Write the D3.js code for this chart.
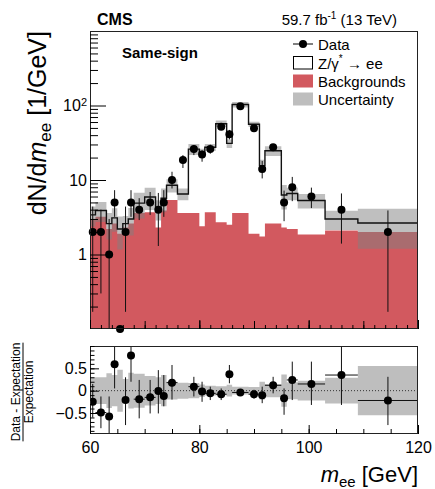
<!DOCTYPE html>
<html><head><meta charset="utf-8">
<script src="https://cdn.jsdelivr.net/npm/d3@7"></script>
<style>
body{margin:0;background:#fff}
svg{display:block}
text{font-family:"Liberation Sans",Arial,Helvetica,sans-serif;fill:#000}
</style>
</head><body>
<svg id="c" width="435" height="489"></svg>
<script>
// ---------------- data ----------------
const binEdges = [60,61,63,64,65,66,67,68,70,72,73,74,76,78,80,81,83,85,86,89,91,92,95,96,98,103,109,120];
const dataValues = [2,2,1,5,0,2,5,4,5,4,5,10,18.5,26,22,26,52,41,98,49.5,14,27.5,5,8,6,4,2];
const dataErrLow  = [0.17,0.3,0.1,3.2,null,0.17,3.2,2.9,3.4,1.3,3.2,7.7,14.5,21.6,17.6,22.5,47,35,92.5,44.5,10.5,24.5,2.8,5.2,4.2,1.4,0.17];
const dataErrHigh = [4.4,4.0,3.0,7.3,null,4.4,7.3,5.7,6.9,6.7,7.3,12.9,21.6,29.5,25,29.8,57,47,104,54.5,18,30.5,7.2,11,7.9,6.6,3.9];
const backgroundValues = [3.0,3.2,2.2,2.6,1.9,2.3,2.6,3.6,3.7,2.3,3.9,5.4,3.6,3.6,2.4,3.7,2.7,2.5,3.6,1.9,1.75,2.6,2.3,2.2,1.85,2.1,2.0];
const expectedTotal = [3.4,3.9,2.6,3.1,2.2,2.6,3.0,4.9,5.9,4.1,5.7,8.5,6.5,26,23,27.5,57,31,103,56,15.6,24.7,6.3,6.6,5.3,3.0,2.65];
const relUncertainty = [0.3,0.3,0.39,0.35,0.47,0.26,0.4,0.38,0.33,0.3,0.35,0.2,0.18,0.17,0.14,0.11,0.1,0.13,0.085,0.08,0.2,0.15,0.36,0.19,0.22,0.29,0.55];
const ratioValues  = [-0.25,-0.49,-0.58,0.59,null,-0.21,0.79,-0.19,-0.15,-0.01,-0.12,0.18,null,0.09,-0.02,-0.06,-0.08,0.37,-0.04,-0.08,-0.10,0.12,-0.17,0.24,0.15,0.35,-0.22];
const ratioErrLow  = [-0.6,-0.84,-0.97,0.05,null,-0.77,0.2,-0.62,-0.51,-0.51,-0.35,-0.2,null,-0.13,-0.25,-0.21,-0.21,0.165,-0.1,-0.18,-0.28,-0.06,-0.54,-0.21,-0.32,-0.32,-0.77];
const ratioErrHigh = [0.15,-0.13,-0.13,1.0,null,0.3,1.0,0.24,0.24,0.46,0.35,0.575,null,0.31,0.2,0.09,0.05,0.575,0.02,0.02,0.09,0.31,0.05,0.65,0.65,1.0,0.31];
const xTickLabels = [60,80,100,120];
const yMainTickLabels = [1,10,100];
const yRatioTickLabels = [-0.5,0,0.5];
const legendLabels = ["Data","Z/γ","Backgrounds","Uncertainty"];

// ---------------- layout ----------------
const X0=90, X1=418, MT=31, MB=329, RT=346, RB=434;
const RED="#d2595f";
const svg=d3.select("#c");
const x=d3.scaleLinear().domain([60,120]).range([X0,X1]);
const y=d3.scaleLog().domain([0.1,1000]).range([MB,MT]);
const yr=d3.scaleLinear().domain([-0.97,1.0]).range([RB,RT]);

const bins=dataValues.map((d,i)=>({lo:binEdges[i],hi:binEdges[i+1],c:(binEdges[i]+binEdges[i+1])/2,
  data:d,el:dataErrLow[i],eh:dataErrHigh[i],bkg:backgroundValues[i],tot:expectedTotal[i],u:relUncertainty[i],
  r:ratioValues[i],rl:ratioErrLow[i],rh:ratioErrHigh[i]}));
const stepPts=bins.flatMap(b=>[{x:b.lo,b},{x:b.hi,b}]);

const defs=svg.append("defs");
defs.append("clipPath").attr("id","cm").append("rect").attr("x",X0).attr("y",MT).attr("width",X1-X0).attr("height",MB-MT);
defs.append("clipPath").attr("id","cr").append("rect").attr("x",X0).attr("y",RT).attr("width",X1-X0).attr("height",RB-RT);

// ---------------- main panel ----------------
const gm=svg.append("g").attr("clip-path","url(#cm)");
gm.append("path").datum(stepPts).attr("fill",RED)
  .attr("d",d3.area().x(p=>x(p.x)).y0(MB).y1(p=>y(p.b.bkg)));
gm.append("path").datum(stepPts).attr("fill","#808080").attr("fill-opacity",0.5)
  .attr("d",d3.area().x(p=>x(p.x)).y0(p=>y(p.b.tot*(1-p.b.u))).y1(p=>y(p.b.tot*(1+p.b.u))));
gm.append("path").datum(stepPts).attr("fill","none").attr("stroke","#111").attr("stroke-width",1.4)
  .attr("d",d3.line().x(p=>x(p.x)).y(p=>y(p.b.tot)));
gm.selectAll("line.eb").data(bins.filter(b=>b.el!=null)).join("line").attr("class","eb")
  .attr("x1",b=>x(b.c)).attr("x2",b=>x(b.c)).attr("y1",b=>y(b.el)).attr("y2",b=>y(b.eh))
  .attr("stroke","#111").attr("stroke-width",1);
svg.append("g").selectAll("circle").data(bins).join("circle")
  .attr("cx",b=>x(b.c)).attr("cy",b=>y(Math.max(b.data,0.1))).attr("r",4).attr("fill","#000");

// ---------------- ratio panel ----------------
const gr=svg.append("g").attr("clip-path","url(#cr)");
gr.append("path").datum(stepPts).attr("fill","#bebebe")
  .attr("d",d3.area().x(p=>x(p.x)).y0(p=>yr(-p.b.u)).y1(p=>yr(p.b.u)));
gr.append("line").attr("x1",X0).attr("x2",X1).attr("y1",yr(0)).attr("y2",yr(0))
  .attr("stroke","#333").attr("stroke-width",1).attr("stroke-dasharray","1,2");
const rb=bins.filter(b=>b.r!=null);
gr.selectAll("line.rv").data(rb).join("line").attr("class","rv")
  .attr("x1",b=>x(b.c)).attr("x2",b=>x(b.c)).attr("y1",b=>yr(b.rl)).attr("y2",b=>yr(b.rh))
  .attr("stroke","#111").attr("stroke-width",1);
gr.selectAll("line.rh").data(rb).join("line").attr("class","rh")
  .attr("x1",b=>x(b.lo)).attr("x2",b=>x(b.hi)).attr("y1",b=>yr(b.r)).attr("y2",b=>yr(b.r))
  .attr("stroke","#111").attr("stroke-width",1);
gr.selectAll("circle").data(rb).join("circle")
  .attr("cx",b=>x(b.c)).attr("cy",b=>yr(b.r)).attr("r",4).attr("fill","#000");

// ---------------- frames ----------------
[[MT,MB],[RT,RB]].forEach(([t,b])=>svg.append("rect").attr("x",X0+0.5).attr("y",t+0.5)
  .attr("width",X1-X0-1).attr("height",b-t-1).attr("fill","none").attr("stroke","#222").attr("stroke-width",1));

// ---------------- axes ----------------
function styleAxis(g,size){g.select(".domain").remove();g.selectAll(".tick line").attr("stroke","#000");
  g.attr("font-size",size).attr("font-family","Liberation Sans, Arial, sans-serif");g.selectAll("text").attr("fill","#000");}
// main x
[[d3.range(60,121,2),-4],[d3.range(60,121,10),-8],[xTickLabels,-9]].forEach(([v,s])=>
  svg.append("g").attr("transform",`translate(0,${MB})`).call(d3.axisBottom(x).tickValues(v).tickSize(s).tickFormat("")).call(g=>styleAxis(g,16)));
// main y
const minorY=[];[0.1,1,10,100].forEach(d=>{for(let k=2;k<=9;k++)minorY.push(d*k);});
svg.append("g").attr("transform",`translate(${X0},0)`).call(d3.axisLeft(y).tickValues(minorY).tickSize(-8).tickFormat("")).call(g=>styleAxis(g,16));
const gy=svg.append("g").attr("transform",`translate(${X0},0)`)
  .call(d3.axisLeft(y).tickValues(yMainTickLabels).tickSize(-16).tickPadding(3).tickFormat(d=>d===100?"10":String(d)))
  .call(g=>styleAxis(g,16));
gy.selectAll(".tick").filter(d=>d===100).select("text").text("10").append("tspan").attr("dy","-0.45em").attr("font-size",11).text("2");
// ratio x
svg.append("g").attr("transform",`translate(0,${RB})`).call(d3.axisBottom(x).tickValues(d3.range(60,121,5)).tickSize(-5).tickFormat("")).call(g=>styleAxis(g,16));
svg.append("g").attr("transform",`translate(0,${RB})`).call(d3.axisBottom(x).tickValues(xTickLabels).tickSize(-9).tickPadding(8).tickFormat(d3.format("d"))).call(g=>styleAxis(g,16));
// ratio y
svg.append("g").attr("transform",`translate(${X0},0)`).call(d3.axisLeft(yr).tickValues(d3.range(-0.9,1.0001,0.1)).tickSize(-4.5).tickFormat("")).call(g=>styleAxis(g,16));
svg.append("g").attr("transform",`translate(${X0},0)`).call(d3.axisLeft(yr).tickValues(yRatioTickLabels).tickSize(-9).tickPadding(3)
  .tickFormat(d=>d===0?"0":(d<0?"\u2212":"")+Math.abs(d))).call(g=>styleAxis(g,16));

// ---------------- texts ----------------
svg.append("text").attr("x",97).attr("y",25).attr("font-size",16).attr("font-weight","bold").text("CMS");
const lum=svg.append("text").attr("x",397).attr("y",25).attr("font-size",15).attr("text-anchor","end");
lum.append("tspan").text("59.7 fb");
lum.append("tspan").attr("dy",-6).attr("font-size",10).text("-1");
lum.append("tspan").attr("dy",6).text(" (13 TeV)");
svg.append("text").attr("x",122).attr("y",58).attr("font-size",15).attr("font-weight","bold").text("Same-sign");

// legend
const LX=293, rows=[44,63,81,99];
const lg=svg.append("g");
lg.append("line").attr("x1",LX).attr("x2",LX+20).attr("y1",rows[0]).attr("y2",rows[0]).attr("stroke","#000");
lg.append("circle").attr("cx",LX+10).attr("cy",rows[0]).attr("r",4).attr("fill","#000");
lg.append("rect").attr("x",LX+0.5).attr("y",rows[1]-6.5).attr("width",19).attr("height",12.5).attr("fill","#fff").attr("stroke","#000");
lg.append("rect").attr("x",LX).attr("y",rows[2]-6.5).attr("width",20).attr("height",13).attr("fill",RED);
lg.append("rect").attr("x",LX).attr("y",rows[3]-6.5).attr("width",20).attr("height",13).attr("fill","#bebebe");
legendLabels.forEach((t,i)=>{
  const tx=lg.append("text").attr("x",LX+25).attr("y",rows[i]+5.5).attr("font-size",15);
  tx.append("tspan").text(t);
  if(i===1){tx.append("tspan").attr("dy",-7).attr("font-size",10).text("*");
    tx.append("tspan").attr("dy",7).text(" \u2192 ee");}
});

// y title main
const yt=svg.append("text").attr("transform",`translate(46,${MT}) rotate(-90)`).attr("text-anchor","end").attr("font-size",25);
yt.append("tspan").text("dN/d");
yt.append("tspan").attr("font-style","italic").text("m");
yt.append("tspan").attr("font-size",17).attr("dy",5).text("ee");
yt.append("tspan").attr("dy",-5).text(" [1/GeV]");

// ratio y title (fraction)
const rg=svg.append("g").attr("transform",`translate(0,392) rotate(-90)`);
const num=rg.append("text").attr("x",0).attr("y",20).attr("text-anchor","middle").attr("font-size",12).text("Data - Expectation");
rg.append("text").attr("x",0).attr("y",33).attr("text-anchor","middle").attr("font-size",12).text("Expectation");
const nl=num.node().getComputedTextLength();
rg.append("line").attr("x1",-nl/2).attr("x2",nl/2).attr("y1",23).attr("y2",23).attr("stroke","#000").attr("stroke-width",1);

// x title
const xt=svg.append("text").attr("x",X1).attr("y",482).attr("text-anchor","end").attr("font-size",22);
xt.append("tspan").attr("font-style","italic").text("m");
xt.append("tspan").attr("font-size",15).attr("dy",5).text("ee");
xt.append("tspan").attr("dy",-5).text(" [GeV]");
</script>
</body></html>
